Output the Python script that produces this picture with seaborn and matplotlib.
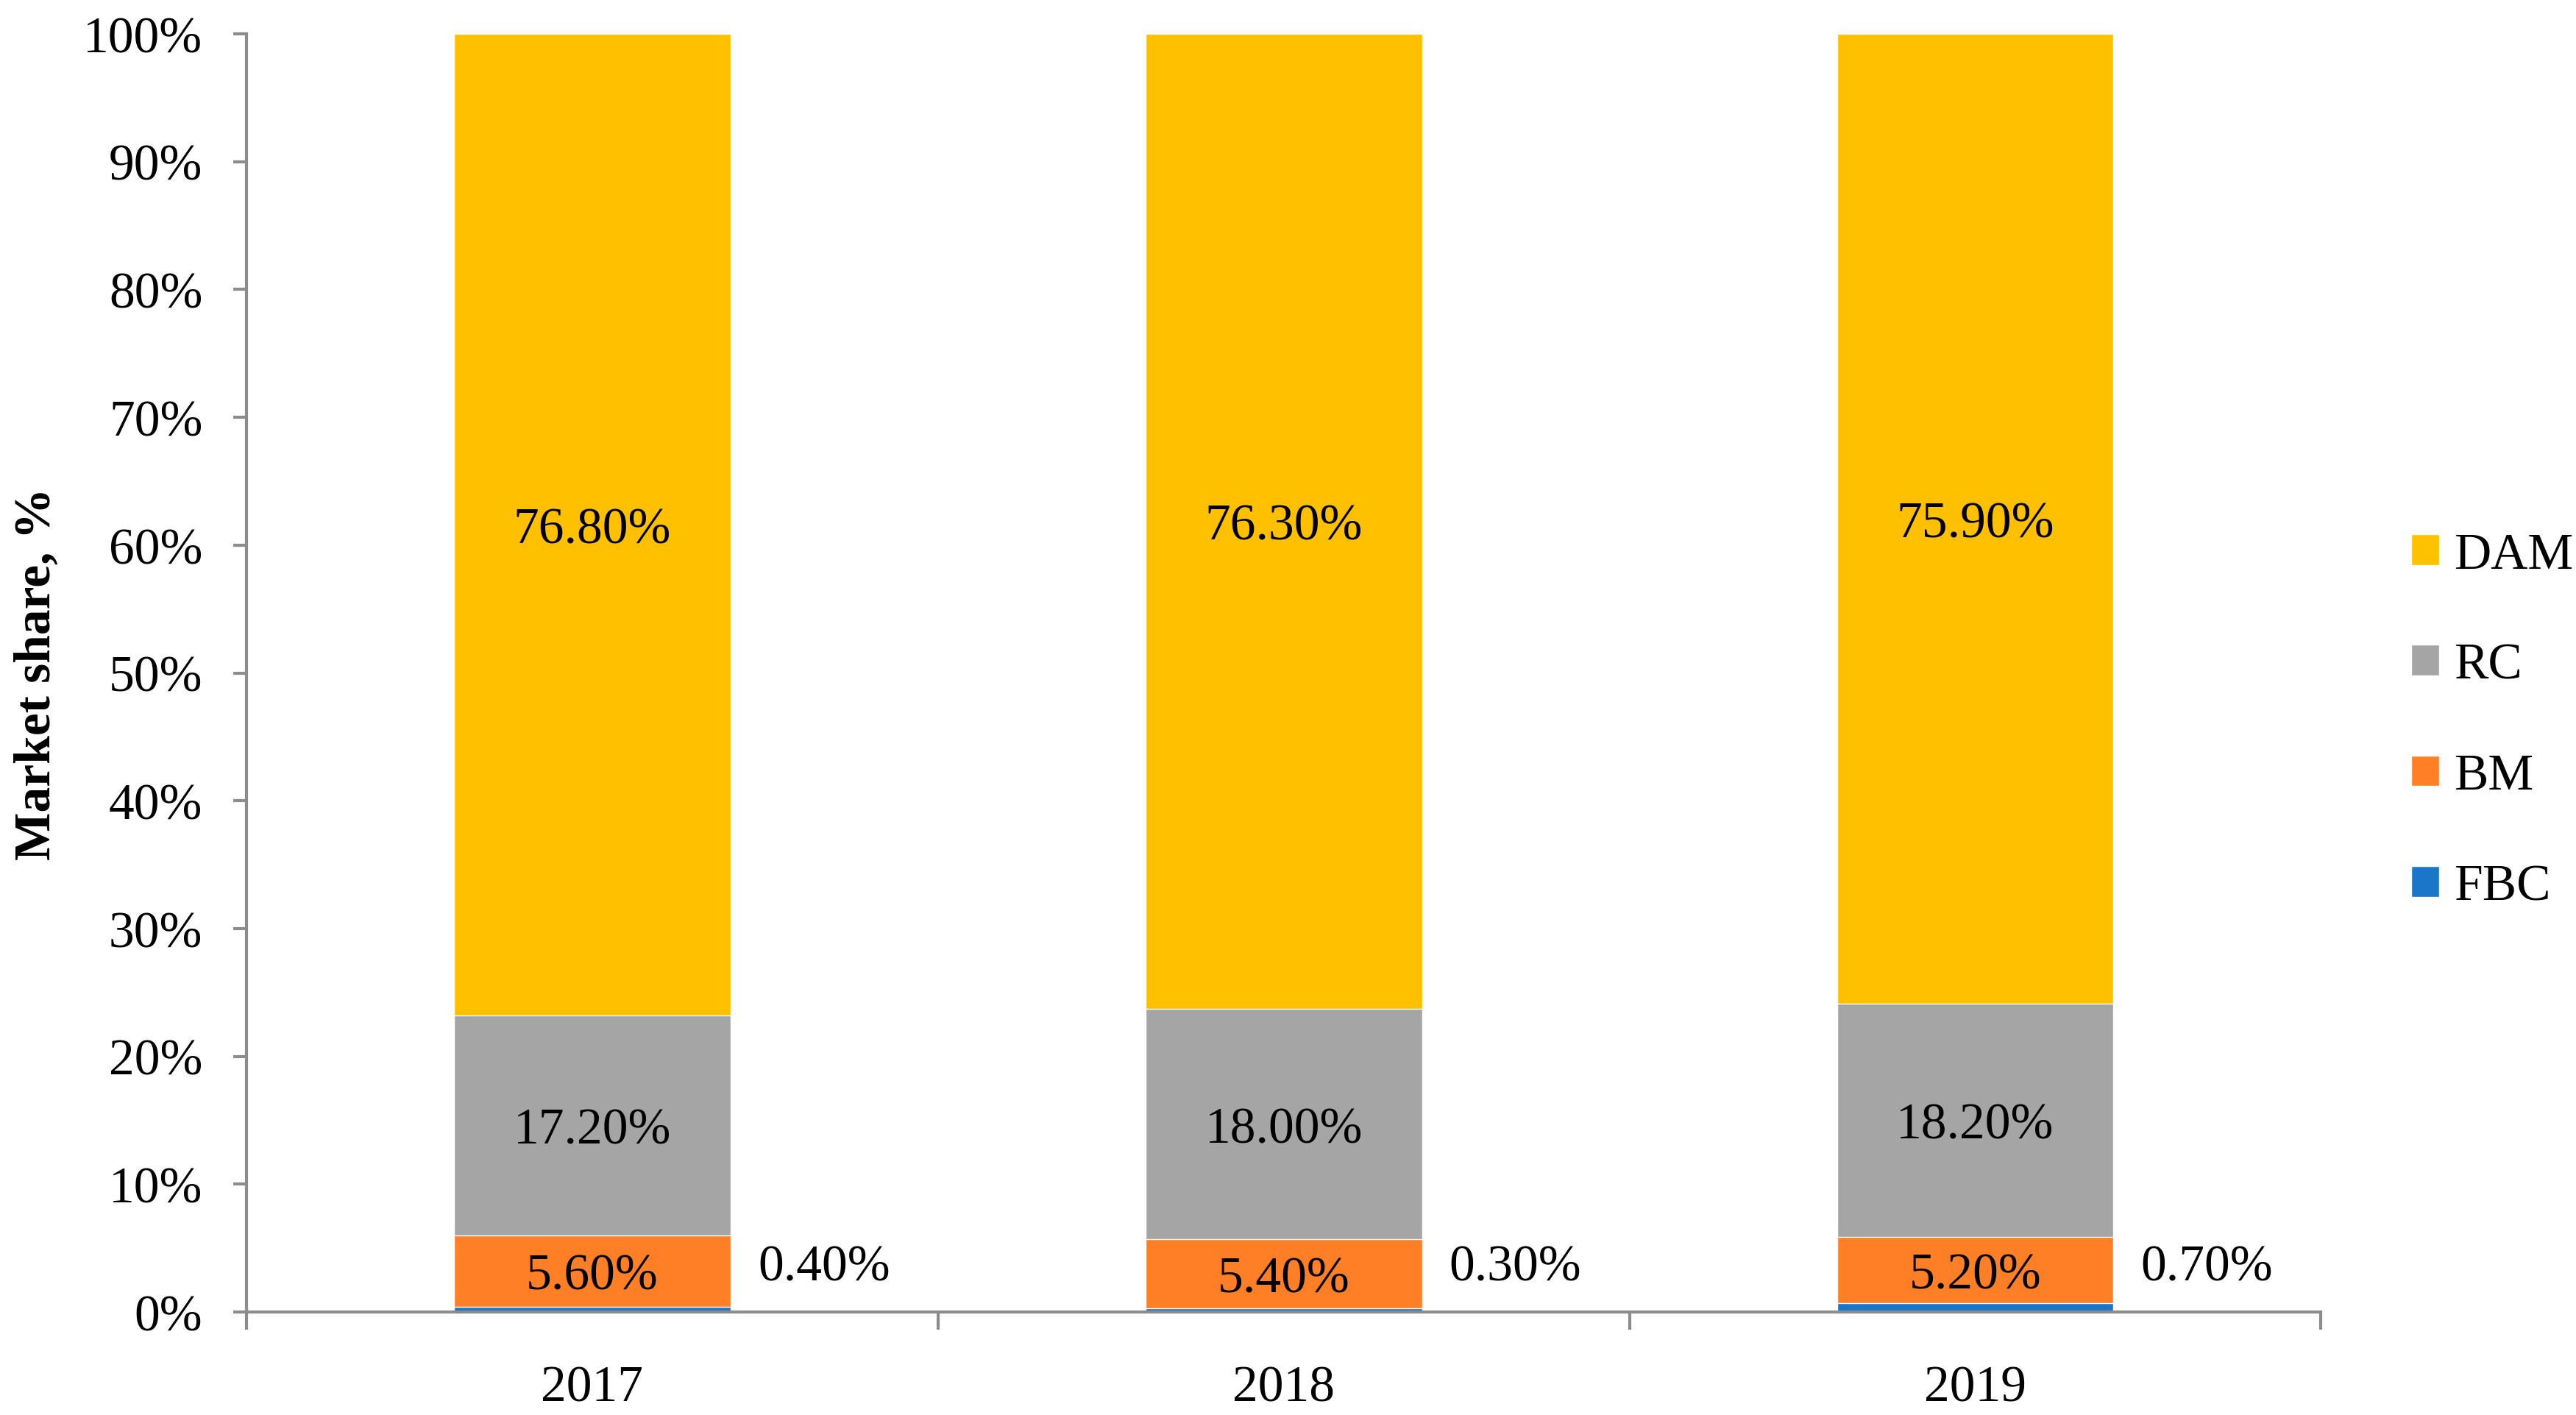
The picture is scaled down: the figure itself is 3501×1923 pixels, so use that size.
import pandas as pd
import matplotlib.pyplot as plt
import seaborn as sns

# market share by year, %
years = ['2017', '2018', '2019']
fbc = [0.4, 0.3, 0.7]
bm = [5.6, 5.4, 5.2]
rc = [17.2, 18.0, 18.2]
dam = [76.8, 76.3, 75.9]

series = ['FBC', 'BM', 'RC', 'DAM']
colors = {'FBC': '#1B75C9', 'BM': '#FF7F27', 'RC': '#A5A5A5', 'DAM': '#FFC000'}

sns.set_style('white')
plt.rcParams['font.family'] = ['Liberation Serif', 'DejaVu Serif']
plt.rcParams['text.color'] = 'black'
plt.rcParams['xtick.color'] = '#8C8C8C'
plt.rcParams['ytick.color'] = '#8C8C8C'
plt.rcParams['xtick.labelcolor'] = 'black'
plt.rcParams['ytick.labelcolor'] = 'black'
plt.rcParams['axes.labelcolor'] = 'black'

values = pd.DataFrame({'FBC': fbc, 'BM': bm, 'RC': rc, 'DAM': dam}, index=years)
cum = values[series].cumsum(axis=1)

fig = plt.figure(figsize=(35.01, 19.24), dpi=100)
ax = fig.add_axes([0.0957, 0.0727, 0.8053, 0.9029])

# draw cumulative bars from top layer down so they look stacked
for name in reversed(series):
    df = pd.DataFrame({'year': years, 'value': cum[name].values})
    sns.barplot(data=df, x='year', y='value', color=colors[name], width=0.4,
                saturation=1, label=name, ax=ax, zorder=2)

fs = 50
for i, yr in enumerate(years):
    for name in ['BM', 'RC', 'DAM']:
        v = values.loc[yr, name]
        mid = cum.loc[yr, name] - v / 2
        ax.text(i, mid, f'{v:.2f}%', ha='center', va='center_baseline',
                fontsize=fs, color='black')
    ax.text(i + 0.335, 3.9, f'{values.loc[yr, "FBC"]:.2f}%', ha='center',
            va='center_baseline', fontsize=fs, color='black')

ax.set_xlim(-0.5, 2.5)
ax.set_ylim(0, 100)
ax.set_yticks(range(0, 101, 10))
ax.set_yticklabels([f'{t}%' for t in range(0, 101, 10)], fontsize=fs)
ax.set_xticks(range(len(years)))
ax.set_xticklabels(years, fontsize=fs)
ax.set_xticks([-0.5, 0.5, 1.5, 2.5], minor=True)
ax.tick_params(axis='x', which='major', bottom=True, length=0, pad=52)
ax.tick_params(axis='x', which='minor', bottom=True, length=17, width=3,
               color='#8C8C8C', direction='out')
ax.tick_params(axis='y', left=True, length=13, width=3, color='#8C8C8C',
               direction='out', pad=30)
ax.set_xlabel('')
ax.set_ylabel('Market share, %', fontsize=fs, fontweight='bold', labelpad=22)

sns.despine(ax=ax)
for side in ['left', 'bottom']:
    ax.spines[side].set_color('#8C8C8C')
    ax.spines[side].set_linewidth(3)
    ax.spines[side].set_zorder(3)

ax.legend(loc='center left', bbox_to_anchor=(0.928, 0.49), bbox_transform=fig.transFigure,
          frameon=False, fontsize=fs, handlelength=0.55, handleheight=0.55,
          handletextpad=0.3, labelspacing=1.25, borderaxespad=0)

fig.savefig('out.png', dpi=100)
